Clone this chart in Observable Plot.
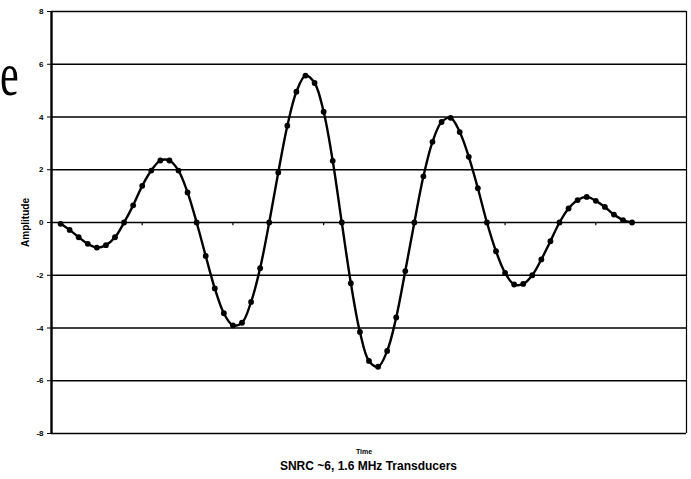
<!DOCTYPE html>
<html>
<head>
<meta charset="utf-8">
<script src="https://cdn.jsdelivr.net/npm/d3@7"></script>
<script src="https://cdn.jsdelivr.net/npm/@observablehq/plot@0.6"></script>
<style>
  html, body { margin: 0; padding: 0; background: #fff; }
  #wrap { position: relative; width: 691px; height: 479px; overflow: hidden; font-family: "Liberation Sans", Arial, sans-serif; }
  #letter { position: absolute; left: 0; top: 43px; font-family: "Liberation Serif", "Times New Roman", serif; font-size: 62px; line-height: 1; color: #000; transform: scaleX(0.68); transform-origin: left top; }
  #caption { position: absolute; left: 51px; width: 635px; top: 459px; text-align: center; font-weight: bold; font-size: 12px; line-height: 15px; color: #000; }
</style>
</head>
<body>
<div id="wrap">
  <div id="chart"></div>
  <div id="letter">e</div>
  <div id="caption">SNRC ~6, 1.6 MHz Transducers</div>
</div>
<script>
// Received waveform samples (one per time step)
const amplitude = [
  -0.05, -0.28, -0.56, -0.81, -0.95, -0.86, -0.56, 0.0,
  0.65, 1.39, 1.97, 2.35, 2.35, 1.97, 1.14, 0.0,
  -1.27, -2.5, -3.44, -3.9, -3.8, -3.01, -1.73, 0.0,
  1.9, 3.67, 4.96, 5.57, 5.29, 4.2, 2.34, 0.0,
  -2.3, -4.15, -5.25, -5.47, -4.87, -3.6, -1.84, 0.0,
  1.75, 3.06, 3.81, 3.97, 3.43, 2.49, 1.3, 0.0,
  -1.09, -1.91, -2.35, -2.33, -2.0, -1.4, -0.71, 0.0,
  0.53, 0.85, 0.97, 0.82, 0.59, 0.3, 0.09, 0.0
];
const time = amplitude.map((_, i) => i + 1);
const yTicks = [-8, -6, -4, -2, 0, 2, 4, 6, 8];
const timeTicks = [10, 20, 30, 40, 50, 60];
const timeExtent = [0, 70];

const data = time.map((t, i) => ({t, a: amplitude[i]}));

const chart = Plot.plot({
  width: 691,
  height: 460,
  marginLeft: 51,
  marginRight: 5,
  marginTop: 11,
  marginBottom: 27,
  style: {fontFamily: "Liberation Sans, Arial, sans-serif", color: "#000", background: "#fff"},
  x: {domain: timeExtent, axis: null},
  y: {domain: [yTicks[0], yTicks[yTicks.length - 1]], axis: null},
  marks: [
    Plot.ruleY(yTicks, {stroke: "#000", strokeWidth: 1.3}),
    Plot.ruleX([timeExtent[1]], {stroke: "#000", strokeWidth: 1.2}),
    Plot.ruleX([timeExtent[0]], {stroke: "#000", strokeWidth: 2.4}),
    Plot.ruleX(timeTicks, {y1: 0, y2: -0.12, stroke: "#000", strokeWidth: 1.2}),
    Plot.axisY({
      ticks: yTicks,
      tickSize: 4,
      tickPadding: 4,
      tickFormat: d => String(d),
      fontSize: 8,
      fontWeight: "bold",
      label: null
    }),
    Plot.text(["Amplitude"], {frameAnchor: "left", textAnchor: "middle", dx: -26, rotate: -90, fontSize: 10, fontWeight: "bold"}),
    Plot.text(["Time"], {frameAnchor: "bottom", dx: -5, dy: 20, fontSize: 7, fontWeight: "bold"}),
    Plot.line(data, {x: "t", y: "a", curve: "catmull-rom", stroke: "#000", strokeWidth: 2.4}),
    Plot.dot(data, {x: "t", y: "a", r: 2.9, fill: "#000", stroke: null})
  ]
});
document.getElementById("chart").appendChild(chart);
</script>
</body>
</html>
